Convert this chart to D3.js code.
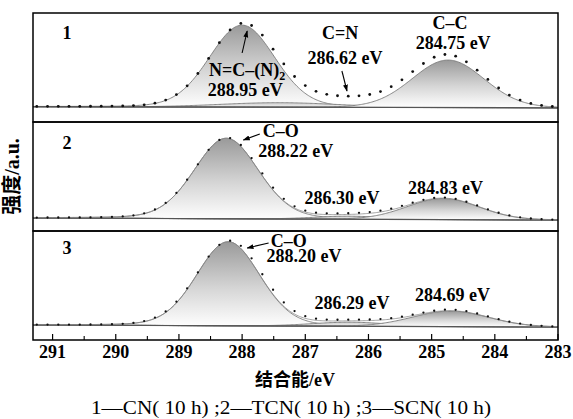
<!DOCTYPE html>
<html><head><meta charset="utf-8">
<script src="https://cdn.jsdelivr.net/npm/d3@7"></script>
<style>body{margin:0;background:#fff}</style>
</head><body><svg id="c" width="573" height="419"></svg>
<script>
// ---------------- data ----------------
const xDomain = [291.31, 283];
const majorTicks = [291, 290, 289, 288, 287, 286, 285, 284, 283];
const minorTicks = [290.5, 289.5, 288.5, 287.5, 286.5, 285.5, 284.5, 283.5];
const panelLabels = ["1", "2", "3"];
const baseLeft = [15.3, 13, 15];
const baseRight = [14.2, 11, 13];

// fitted components (center eV, height a.u., sigma eV, lorentz mix)
const fit1Centers = [288.0, 287.4, 284.74];
const fit1Heights = [82, 4.5, 47.5];
const fit1Sigmas = [0.52, 0.95, 0.57];
const fit1Mix = [0.1, 0, 0.05];
const fit2Centers = [288.25, 286.30, 284.82];
const fit2Heights = [80.5, 3, 21];
const fit2Sigmas = [0.51, 0.55, 0.57];
const fit2Mix = [0.15, 0, 0];
const fit3Centers = [288.22, 286.29, 284.70];
const fit3Heights = [84, 4, 15.5];
const fit3Sigmas = [0.5, 0.6, 0.6];
const fit3Mix = [0.12, 0, 0];

// measured envelope (dotted)
const data1Centers = [287.98, 286.45, 284.76];
const data1Heights = [83.5, 8, 52.6];
const data1Sigmas = [0.53, 0.62, 0.58];
const data1Mix = [0.1, 0, 0.05];
const data2Centers = [288.24, 286.30, 284.82];
const data2Heights = [81, 4, 21.5];
const data2Sigmas = [0.52, 0.6, 0.58];
const data2Mix = [0.15, 0, 0];
const data3Centers = [288.20, 286.29, 284.70];
const data3Heights = [85, 5, 16.5];
const data3Sigmas = [0.52, 0.6, 0.6];
const data3Mix = [0.12, 0, 0];

// annotations: [panel, text, energy, intensity]
const annoTexts = [
  [0, "C=N", 286.45, 87], [0, "286.62 eV", 286.37, 62],
  [0, "C–C", 284.71, 97], [0, "284.75 eV", 284.66, 77],
  [0, "288.95 eV", 287.95, 30.3],
  [1, "C–O", 287.39, 98], [1, "288.22 eV", 287.15, 78],
  [1, "286.30 eV", 286.42, 31], [1, "284.83 eV", 284.78, 41],
  [2, "C–O", 287.26, 97], [2, "288.20 eV", 287.02, 82],
  [2, "286.29 eV", 286.26, 35], [2, "284.69 eV", 284.67, 43]
];
const subLabel = [0, "N=C–(N)", "2", 287.92, 50];
// arrows: [panel, e1, i1, e2, i2] (tail -> head)
const arrows = [
  [0, 288.00, 69, 287.92, 91],
  [0, 286.42, 51, 286.34, 31],
  [1, 287.72, 97, 287.98, 91],
  [2, 287.58, 97, 287.92, 92]
];
const yTitle = "强度/a.u.";
const xTitle = "结合能/eV";
const caption = "1—CN( 10 h) ;2—TCN( 10 h) ;3—SCN( 10 h)";

// ---------------- drawing ----------------
const svg = d3.select("#c");
const L = 33, R = 558, T = 13, PH = 109;
const x = d3.scaleLinear().domain(xDomain).range([L, R]);
const serif = "'Liberation Serif','Times New Roman',serif";
const cjk = "'Liberation Serif','Noto Sans CJK SC',serif";

const fits = [
  [fit1Centers, fit1Heights, fit1Sigmas, fit1Mix],
  [fit2Centers, fit2Heights, fit2Sigmas, fit2Mix],
  [fit3Centers, fit3Heights, fit3Sigmas, fit3Mix]];
const datas = [
  [data1Centers, data1Heights, data1Sigmas, data1Mix],
  [data2Centers, data2Heights, data2Sigmas, data2Mix],
  [data3Centers, data3Heights, data3Sigmas, data3Mix]];

function pv(v, c, h, s, m) {
  const d = (v - c) / s;
  const g = Math.exp(-d * d / 2);
  const w = 1.1774 * s;
  const l = 1 / (1 + ((v - c) / w) ** 2);
  return h * ((1 - m) * g + m * l);
}
const grid = d3.range(xDomain[0], xDomain[1] - 0.001, -0.02);
const dotGrid = d3.range(291.25, 283.0, -0.17);

const defs = svg.append("defs");
const gr = defs.append("linearGradient").attr("id", "gDark").attr("x1", 0).attr("y1", 0).attr("x2", 0).attr("y2", 1);
gr.append("stop").attr("offset", 0).attr("stop-color", "#9a9a9a");
gr.append("stop").attr("offset", 0.55).attr("stop-color", "#d6d6d6");
gr.append("stop").attr("offset", 1).attr("stop-color", "#ffffff");
const gr2 = defs.append("linearGradient").attr("id", "gLight").attr("x1", 0).attr("y1", 0).attr("x2", 0).attr("y2", 1);
gr2.append("stop").attr("offset", 0).attr("stop-color", "#d0d0d0");
gr2.append("stop").attr("offset", 1).attr("stop-color", "#f4f4f4");
const mk = defs.append("marker").attr("id", "ah").attr("viewBox", "0 0 10 10")
  .attr("refX", 9).attr("refY", 5).attr("markerWidth", 7).attr("markerHeight", 7)
  .attr("markerUnits", "userSpaceOnUse").attr("orient", "auto");
mk.append("path").attr("d", "M0,1.5 L10,5 L0,8.5 Z").attr("fill", "#000");

const yScales = [];
for (let p = 0; p < 3; p++) {
  const top = T + p * PH, bottom = top + PH;
  const y = d3.scaleLinear().domain([0, PH]).range([bottom, top]);
  yScales.push(y);
  const g = svg.append("g");
  const base = v => baseLeft[p] + (baseRight[p] - baseLeft[p]) * (xDomain[0] - v) / (xDomain[0] - xDomain[1]);
  const [cs, hs, ss, ms] = fits[p];
  cs.forEach((c, i) => {
    const area = d3.area().x(v => x(v)).y0(v => y(base(v))).y1(v => y(base(v) + pv(v, c, hs[i], ss[i], ms[i])));
    g.append("path").datum(grid).attr("d", area)
      .attr("fill", hs[i] > 10 ? "url(#gDark)" : "url(#gLight)")
      .attr("stroke", "#7a7a7a").attr("stroke-width", 0.9);
  });
  g.append("line").attr("x1", x(xDomain[0])).attr("x2", x(xDomain[1]))
    .attr("y1", y(baseLeft[p])).attr("y2", y(baseRight[p]))
    .attr("stroke", "#555").attr("stroke-width", 1.2);
  if (p > 0) {
    const env = d3.line().x(v => x(v)).y(v => y(base(v) + d3.sum(cs, (c, i) => pv(v, c, hs[i], ss[i], ms[i]))));
    g.append("path").datum(grid).attr("d", env).attr("fill", "none").attr("stroke", "#8a8a8a").attr("stroke-width", 0.8);
  }
  const [dc, dh, ds, dm] = datas[p];
  g.selectAll("circle.d").data(dotGrid).enter().append("circle")
    .attr("cx", v => x(v))
    .attr("cy", v => y(base(v) + d3.sum(dc, (c, i) => pv(v, c, dh[i], ds[i], dm[i]))))
    .attr("r", p === 0 ? 1.4 : 1.15).attr("fill", "#111");
  g.append("text").attr("x", x(290.77)).attr("y", y(p === 0 ? 87 : (p === 1 ? 86 : 90)))
    .attr("dominant-baseline", "middle").attr("text-anchor", "middle")
    .attr("font-family", serif).attr("font-weight", "bold").attr("font-size", 18).text(panelLabels[p]);
  g.append("rect").attr("x", L).attr("y", top).attr("width", R - L).attr("height", PH)
    .attr("fill", "none").attr("stroke", "#000").attr("stroke-width", 1.5);
}

annoTexts.forEach(([p, t, e, i]) => {
  svg.append("text").attr("x", x(e)).attr("y", yScales[p](i))
    .attr("text-anchor", "middle").attr("dominant-baseline", "middle")
    .attr("font-family", serif).attr("font-weight", "bold").attr("font-size", 18).text(t);
});
{
  const [p, t, s, e, i] = subLabel;
  const tx = svg.append("text").attr("x", x(e)).attr("y", yScales[p](i))
    .attr("text-anchor", "middle").attr("dominant-baseline", "middle")
    .attr("font-family", serif).attr("font-weight", "bold").attr("font-size", 18);
  tx.append("tspan").text(t);
  tx.append("tspan").attr("dy", 5).attr("font-size", 12).text(s);
}
arrows.forEach(([p, e1, i1, e2, i2]) => {
  svg.append("line").attr("x1", x(e1)).attr("y1", yScales[p](i1)).attr("x2", x(e2)).attr("y2", yScales[p](i2))
    .attr("stroke", "#000").attr("stroke-width", 1.1).attr("marker-end", "url(#ah)");
});

const bottomY = T + 3 * PH;
const axG = svg.append("g");
axG.selectAll("line.maj").data(majorTicks).enter().append("line")
  .attr("x1", d => x(d)).attr("x2", d => x(d)).attr("y1", bottomY).attr("y2", bottomY - 6)
  .attr("stroke", "#000").attr("stroke-width", 1.2);
axG.selectAll("line.min").data(minorTicks).enter().append("line")
  .attr("x1", d => x(d)).attr("x2", d => x(d)).attr("y1", bottomY).attr("y2", bottomY - 4)
  .attr("stroke", "#000").attr("stroke-width", 1.1);
axG.selectAll("text.tl").data(majorTicks).enter().append("text")
  .attr("x", d => x(d)).attr("y", bottomY + 18).attr("text-anchor", "middle")
  .attr("font-family", serif).attr("font-weight", "bold").attr("font-size", 18).text(d => d);

svg.append("text").attr("x", 295).attr("y", 386).attr("text-anchor", "middle")
  .attr("font-family", cjk).attr("font-weight", "bold").attr("font-size", 18).text(xTitle);
svg.append("text").attr("transform", `translate(14,${T + 1.5 * PH}) rotate(-90)`)
  .attr("text-anchor", "middle").attr("dominant-baseline", "middle")
  .attr("font-family", cjk).attr("font-weight", "bold").attr("font-size", 20).text(yTitle);
svg.append("text").attr("x", 291).attr("y", 414).attr("text-anchor", "middle")
  .attr("font-family", serif).attr("font-size", 18)
  .attr("textLength", 400).attr("lengthAdjust", "spacingAndGlyphs").text(caption);
</script></body></html>
